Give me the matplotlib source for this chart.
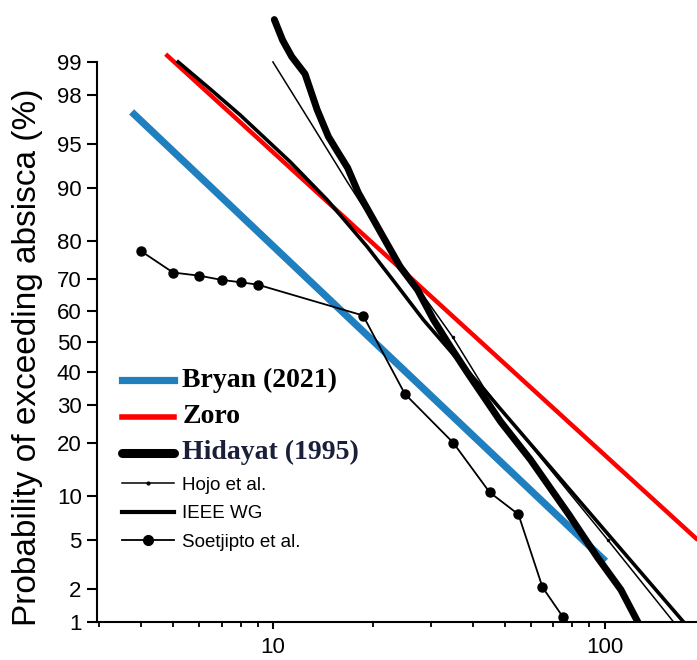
import numpy as np
import matplotlib
matplotlib.use("Agg")
import matplotlib.pyplot as plt
from matplotlib.lines import Line2D
from matplotlib.ticker import LogLocator, NullFormatter, NullLocator, FixedLocator
from statistics import NormalDist

# values (current in kA, probability in %)
bryan_x = [3.75, 100.7]
bryan_y = [97.2, 3.42]

zoro_x = [4.75, 191]
zoro_y = [99.16, 5.0]

hidayat_x = [10.1, 10.7, 11.4, 12.5, 13.6, 14.7, 15.6, 16.8, 18.1, 21.5, 24.2,
             27.3, 30.5, 34.3, 38.6, 48.6, 59.8, 78.0, 95.3, 112, 126]
hidayat_y = [99.63, 99.39, 99.11, 98.7, 97.31, 95.6, 94.4, 92.6, 89.23, 80.88, 73.38,
             66.76, 57.31, 48.41, 39.91, 25.4, 16.4, 7.6, 3.66, 1.98, 1.0]

hojo_x = [10.0, 12.96, 16.76, 22.6, 34.8, 43.1, 59.0, 102.1, 161.5]
hojo_y = [99.0, 96.62, 90.82, 78.04, 51.72, 35.5, 20.14, 5.03, 1.0]

ieee_x = [5.18, 6.47, 7.96, 11.28, 14.58, 19.26, 23.42, 28.42, 42.25, 61.89, 102.1, 173.1]
ieee_y = [99.0, 98.22, 97.04, 93.27, 88.11, 78.53, 68.7, 57.31, 35.81, 18.54, 5.57, 1.0]

soet_x = [4, 5, 6, 7, 8, 9, 18.7, 25, 35, 45, 55, 65, 75]
soet_y = [77.5, 71.8, 70.9, 69.7, 69.0, 68.3, 58.7, 33.3, 20.1, 10.6, 7.6, 2.08, 1.11]

yticks = [1, 2, 5, 10, 20, 30, 40, 50, 60, 70, 80, 90, 95, 98, 99]

nd = NormalDist()
_ppf = np.vectorize(nd.inv_cdf, otypes=[float])
_cdf = np.vectorize(nd.cdf, otypes=[float])


def fwd(p):
    p = np.clip(np.asarray(p, dtype=float) / 100.0, 1e-9, 1 - 1e-9)
    return _ppf(p)


def inv(z):
    return _cdf(np.asarray(z, dtype=float)) * 100.0


plt.rcParams['font.family'] = ['Liberation Sans', 'DejaVu Sans']

fig = plt.figure(figsize=(6.97, 6.6), dpi=100)
ax = fig.add_axes([97 / 697, 38 / 660, 600 / 697, 622 / 660])

blue = '#1f7fbf'
ax.plot(bryan_x, bryan_y, color=blue, lw=5.2, solid_capstyle='butt')
ax.plot(zoro_x, zoro_y, color='#ff0000', lw=3.2, solid_capstyle='butt')
ax.plot(hidayat_x, hidayat_y, color='black', lw=5, solid_capstyle='round', solid_joinstyle='round')
ax.plot(hojo_x, hojo_y, color='black', lw=1.1, marker='.', ms=3, markevery=[4, 7])
ax.plot(ieee_x, ieee_y, color='black', lw=2.6, solid_joinstyle='round')
ax.plot(soet_x, soet_y, color='black', lw=1.3, marker='o', ms=6.5)

ax.set_xscale('log')
ax.set_yscale('function', functions=(fwd, inv))
ax.set_xlim(2.949, 190)
ax.set_ylim(1, 99.775)

ax.xaxis.set_major_locator(FixedLocator([10, 100]))
ax.set_xticklabels(['10', '100'])
ax.xaxis.set_minor_locator(LogLocator(base=10, subs=np.arange(2, 10)))
ax.xaxis.set_minor_formatter(NullFormatter())

ax.yaxis.set_major_locator(FixedLocator(yticks))
ax.set_yticklabels([str(t) for t in yticks])
ax.yaxis.set_minor_locator(NullLocator())

for s in ['top', 'right']:
    ax.spines[s].set_visible(False)
ax.spines['left'].set_bounds(1, 99)
ax.spines['left'].set_linewidth(1.5)
ax.spines['bottom'].set_linewidth(1.5)

ax.tick_params(axis='y', which='major', direction='out', length=7, width=1.5, labelsize=16, pad=4)
ax.tick_params(axis='x', which='major', direction='out', length=5, width=1.5, labelsize=16, pad=6)
ax.tick_params(axis='x', which='minor', direction='out', length=3.5, width=1.3)

ax.set_ylabel('Probability of exceeding absisca (%)', fontsize=24)
ax.yaxis.set_label_coords(-0.09, 0.426)

handles = [
    Line2D([], [], color=blue, lw=5.2),
    Line2D([], [], color='#ff0000', lw=4),
    Line2D([], [], color='black', lw=6.5, solid_capstyle='round'),
    Line2D([], [], color='black', lw=1.1, marker='.', ms=4),
    Line2D([], [], color='black', lw=3),
    Line2D([], [], color='black', lw=1.3, marker='o', ms=7),
]
labels = ['Bryan (2021)', 'Zoro', 'Hidayat (1995)', 'Hojo et al.', 'IEEE WG', 'Soetjipto et al.']
leg = ax.legend(handles, labels, loc='upper left', bbox_to_anchor=(0.02, 0.43),
                frameon=False, prop={'size': 13.5}, handlelength=2.75, handletextpad=0.45,
                labelspacing=0.6, borderpad=0.2)
for t in leg.get_texts()[:3]:
    t.set_fontfamily('Liberation Serif')
    t.set_fontweight('bold')
    t.set_fontsize(20)
leg.get_texts()[2].set_color('#1a1f3a')

fig.savefig('out.png', dpi=100)
